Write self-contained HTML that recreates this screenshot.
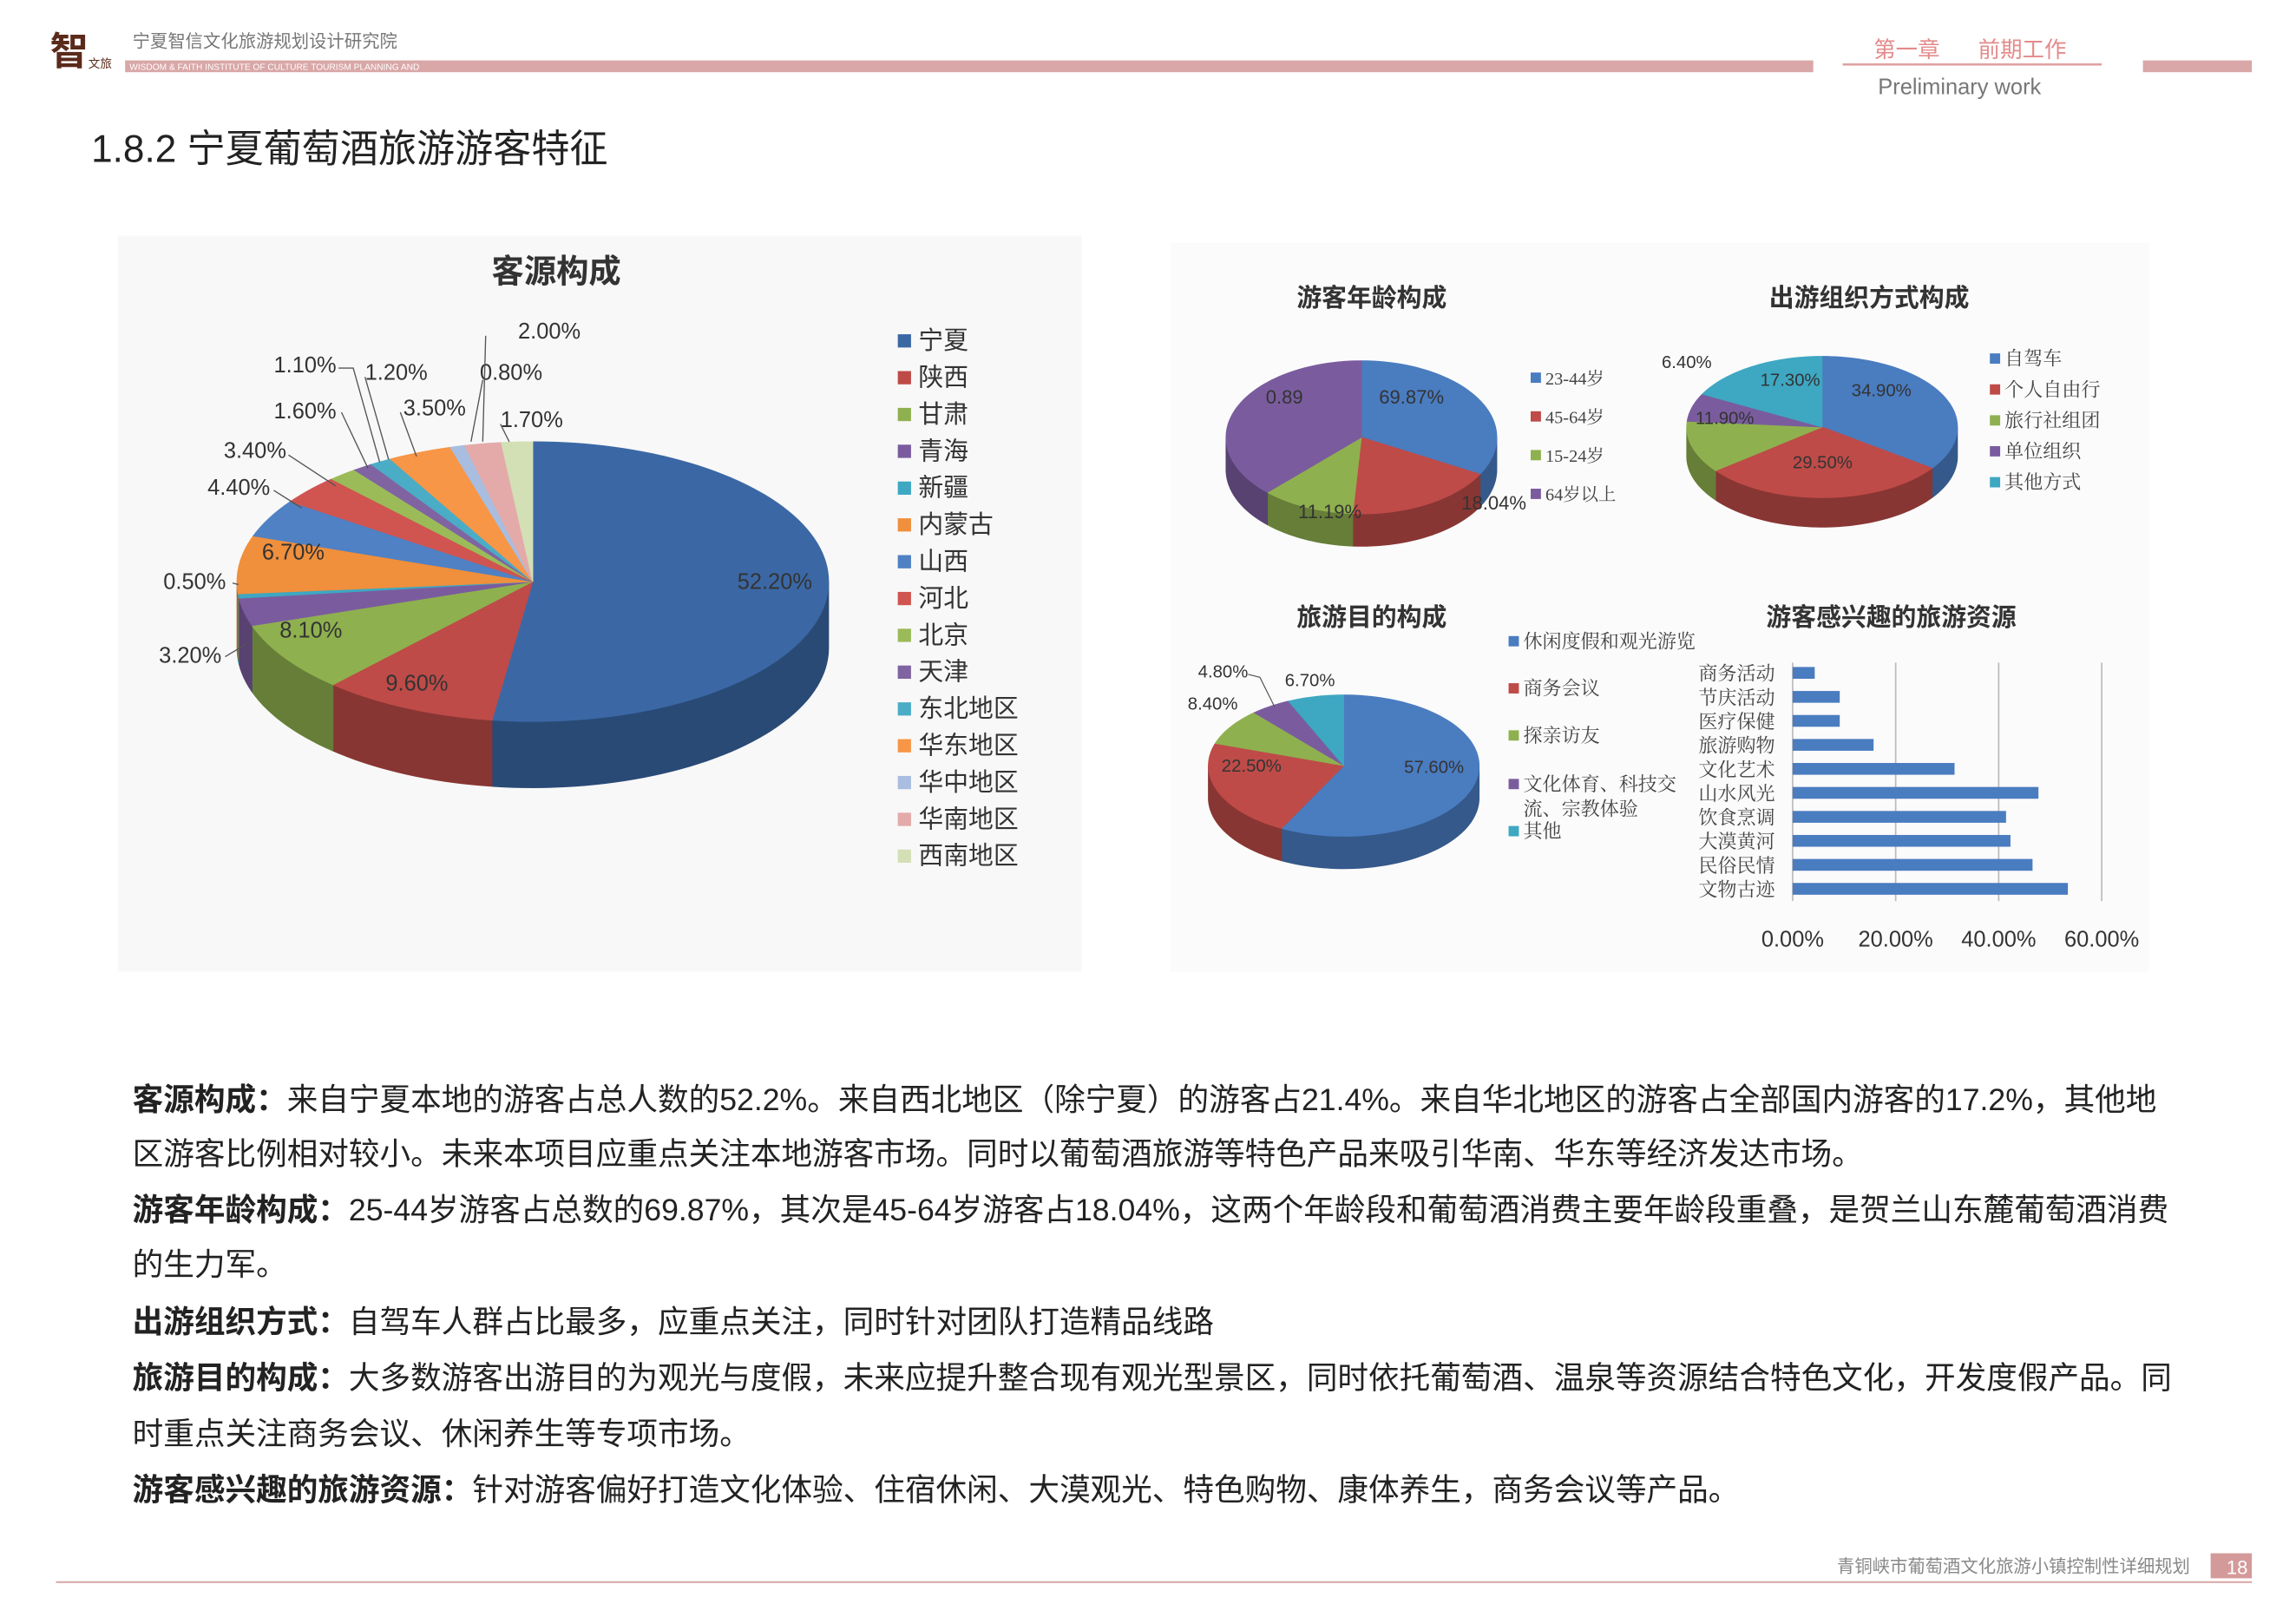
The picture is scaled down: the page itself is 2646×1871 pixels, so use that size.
<!DOCTYPE html>
<html><head><meta charset="utf-8">
<style>
html,body{margin:0;padding:0;background:#fff;}
svg{display:block;}
text{font-family:"Liberation Sans","Noto Sans CJK SC",sans-serif;}
.serif{font-family:"Liberation Serif","Noto Serif CJK SC",serif;}
</style></head><body>
<svg id="s" width="2646" height="1871" viewBox="0 0 1560 1103" xmlns="http://www.w3.org/2000/svg">
<rect width="1560" height="1103" fill="#fff"/>
<rect x="34" y="18" width="44" height="30" fill="#fff"/>
<text x="34" y="44" font-size="26" font-weight="bold" fill="#5a2a1a">智</text>
<text x="60" y="46" font-size="8" fill="#5a2a1a">文旅</text>
<text x="90" y="32" font-size="12" fill="#777">宁夏智信文化旅游规划设计研究院</text>
<rect x="85" y="41" width="1147" height="8" fill="#d9a7a7"/>
<text x="88" y="47.5" font-size="6" fill="#fff">WISDOM &amp; FAITH INSTITUTE OF CULTURE TOURISM PLANNING AND</text>
<text x="1273" y="39" font-size="15" fill="#e38b8b">第一章</text>
<text x="1344" y="39" font-size="15" fill="#e38b8b">前期工作</text>
<rect x="1252" y="43" width="176" height="1.5" fill="#e0a0a0"/>
<text x="1276" y="64" font-size="15" fill="#777">Preliminary work</text>
<rect x="1456" y="41" width="74" height="8" fill="#d9a7a7"/>
<text x="62" y="110" font-size="26" fill="#222">1.8.2 宁夏葡萄酒旅游游客特征</text>
<rect x="80" y="160" width="655" height="500" fill="#f8f8f8"/>
<rect x="795" y="165" width="665" height="495" fill="#fbfbfb"/>
<text x="378" y="192" font-size="22" font-weight="bold" text-anchor="middle" fill="#333">客源构成</text>
<g id="pies"></g>
<g id="lbl" font-size="14" fill="#333"></g>
<text x="932" y="208" font-size="17" font-weight="bold" text-anchor="middle" fill="#333">游客年龄构成</text>
<text x="1270" y="208" font-size="17" font-weight="bold" text-anchor="middle" fill="#333">出游组织方式构成</text>
<text x="932" y="425" font-size="17" font-weight="bold" text-anchor="middle" fill="#333">旅游目的构成</text>
<text x="1285" y="425" font-size="17" font-weight="bold" text-anchor="middle" fill="#333">游客感兴趣的旅游资源</text>
<g stroke="#bbb" stroke-width="1">
<line x1="1218" y1="450" x2="1218" y2="612"/><line x1="1288" y1="450" x2="1288" y2="612"/>
<line x1="1358" y1="450" x2="1358" y2="612"/><line x1="1428" y1="450" x2="1428" y2="612"/>
</g>
<g id="bars"></g>
<g font-size="15" fill="#333" text-anchor="middle">
<text x="1218" y="643">0.00%</text><text x="1288" y="643">20.00%</text><text x="1358" y="643">40.00%</text><text x="1428" y="643">60.00%</text>
</g>
<g font-size="21" fill="#222">
<text x="90" y="754"><tspan font-weight="bold">客源构成：</tspan>来自宁夏本地的游客占总人数的52.2%。来自西北地区（除宁夏）的游客占21.4%。来自华北地区的游客占全部国内游客的17.2%，其他地</text>
<text x="90" y="791">区游客比例相对较小。未来本项目应重点关注本地游客市场。同时以葡萄酒旅游等特色产品来吸引华南、华东等经济发达市场。</text>
<text x="90" y="829"><tspan font-weight="bold">游客年龄构成：</tspan>25-44岁游客占总数的69.87%，其次是45-64岁游客占18.04%，这两个年龄段和葡萄酒消费主要年龄段重叠，是贺兰山东麓葡萄酒消费</text>
<text x="90" y="866">的生力军。</text>
<text x="90" y="905"><tspan font-weight="bold">出游组织方式：</tspan>自驾车人群占比最多，应重点关注，同时针对团队打造精品线路</text>
<text x="90" y="943"><tspan font-weight="bold">旅游目的构成：</tspan>大多数游客出游目的为观光与度假，未来应提升整合现有观光型景区，同时依托葡萄酒、温泉等资源结合特色文化，开发度假产品。同</text>
<text x="90" y="981">时重点关注商务会议、休闲养生等专项市场。</text>
<text x="90" y="1019"><tspan font-weight="bold">游客感兴趣的旅游资源：</tspan>针对游客偏好打造文化体验、住宿休闲、大漠观光、特色购物、康体养生，商务会议等产品。</text>
</g>
<rect x="38" y="1074" width="1492" height="1.2" fill="#d9a7a7"/>
<text x="1488" y="1068" font-size="12" fill="#888" text-anchor="end">青铜峡市葡萄酒文化旅游小镇控制性详细规划</text>
<rect x="1502" y="1055" width="28" height="17" fill="#d49a9a"/>
<text x="1520" y="1069" font-size="13" fill="#fff" text-anchor="middle">18</text>
</svg>
<script>
var NS="http://www.w3.org/2000/svg";
var P=document.getElementById("pies"),L=document.getElementById("lbl");
function el(t,a,par){var e=document.createElementNS(NS,t);for(var k in a)e.setAttribute(k,a[k]);(par||P).appendChild(e);return e;}
function shade(c,f){var n=parseInt(c.slice(1),16),r=(n>>16)*f,g=((n>>8)&255)*f,b=(n&255)*f;return "rgb("+(r|0)+","+(g|0)+","+(b|0)+")";}
function pie(cx,cy,rx,ry,d,vals,cols){
  var tot=vals.reduce(function(a,b){return a+b},0),a=0,sl=[];
  vals.forEach(function(v,i){var a2=a+v/tot*360;sl.push([a,a2,cols[i]]);a=a2;});
  function pt(t,dy){t=t*Math.PI/180;return [cx+rx*Math.sin(t),cy-ry*Math.cos(t)+(dy||0)];}
  function arc(t1,t2,dy,rev){var s="",n=Math.max(2,Math.ceil(Math.abs(t2-t1)/2));for(var i=0;i<=n;i++){var t=rev?t2-(t2-t1)*i/n:t1+(t2-t1)*i/n;var p=pt(t,dy);s+=(i?"L":"")+p[0].toFixed(2)+","+p[1].toFixed(2);}return s;}
  sl.forEach(function(s){var t1=Math.max(s[0],90),t2=Math.min(s[1],270);if(t2>t1){el("path",{d:"M"+arc(t1,t2,0)+"L"+arc(t1,t2,d,true)+"Z",fill:shade(s[2],0.72),stroke:shade(s[2],0.72),"stroke-width":0.5});}});
  sl.forEach(function(s){el("path",{d:"M"+cx+","+cy+"L"+arc(s[0],s[1],0)+"Z",fill:s[2],stroke:s[2],"stroke-width":0.5});});
}
var B="#3b68a5",R="#be4b48",G="#8fb04f",Pu="#7a5c9e",T="#3ea7c2",O="#f08f3c";
pie(362,395,201,95,45,[52.2,9.6,8.1,3.2,0.5,6.7,4.4,3.4,1.6,1.1,1.2,3.5,0.8,2.0,1.7],
 [B,R,G,Pu,T,O,"#4f81c4","#d05450","#9bbb59","#8064a2","#4bacc6","#f79646","#a8bde0","#e3aaa9","#d3dfb5"]);
pie(925,297,92,52,22,[33,18.04,11.19,37.8],["#4a7cc0",R,G,Pu]);
pie(1238,290,92,48,20,[34.9,29.5,11.9,6.4,17.3],["#4a7cc0",R,G,Pu,T]);
pie(913,520,92,48,22,[57.6,22.5,8.4,4.8,6.7],["#4a7cc0",R,G,Pu,T]);
function tx(x,y,s,sz,anc,col,p){var e=el("text",{x:x,y:y,"font-size":sz||14,"text-anchor":anc||"start",fill:col||"#333"},p||L);e.textContent=s;return e;}
[[352,230,"2.00%"],[326,258,"0.80%"],[340,290,"1.70%"],[186,253,"1.10%"],[248,258,"1.20%"],[186,284,"1.60%"],[274,282,"3.50%"],[152,311,"3.40%"],[141,336,"4.40%"],[178,380,"6.70%"],[111,400,"0.50%"],[190,433,"8.10%"],[108,450,"3.20%"],[262,469,"9.60%"],[501,400,"52.20%"]].forEach(function(a){tx(a[0],a[1],a[2],15);});
var lp=[[[330,228],[328,300]],[[328,258],[320,300]],[[340,288],[346,300]],[[230,250],[240,250],[258,314]],[[248,256],[264,312]],[[232,280],[250,318]],[[272,280],[283,310]],[[196,309],[228,330]],[[186,333],[205,345]],[[158,396],[162,397]],[[153,446],[168,437]]];
lp.forEach(function(p){el("polyline",{points:p.map(function(q){return q.join(",")}).join(" "),fill:"none",stroke:"#555","stroke-width":0.8},L);});
var names=["宁夏","陕西","甘肃","青海","新疆","内蒙古","山西","河北","北京","天津","东北地区","华东地区","华中地区","华南地区","西南地区"];
var lc=[B,R,G,Pu,T,O,"#4f81c4","#d05450","#9bbb59","#8064a2","#4bacc6","#f79646","#a8bde0","#e3aaa9","#d3dfb5"];
names.forEach(function(n,i){var y=231+i*25;el("rect",{x:610,y:y-4,width:9,height:9,fill:lc[i]},L);tx(624,y+6,n,17);});
tx(937,274,"69.87%",13);tx(860,274,"0.89",13);tx(882,352,"11.19%",13);tx(993,346,"18.04%",13);
[["23-44岁","#4a7cc0"],["45-64岁",R],["15-24岁",G],["64岁以上",Pu]].forEach(function(a,i){var y=257+i*26.3;el("rect",{x:1040,y:y-4,width:7,height:7,fill:a[1]},L);tx(1050,y+4,a[0],12,"start","#444").setAttribute("class","serif");});
tx(1129,250,"6.40%",12);tx(1196,262,"17.30%",12);tx(1258,269,"34.90%",12);tx(1152,288,"11.90%",12);tx(1218,318,"29.50%",12);
[["自驾车","#4a7cc0"],["个人自由行",R],["旅行社组团",G],["单位组织",Pu],["其他方式",T]].forEach(function(a,i){var y=244+i*21;el("rect",{x:1352,y:y-4,width:7,height:7,fill:a[1]},L);tx(1362,y+4,a[0],13,"start","#444").setAttribute("class","serif");});
tx(814,460,"4.80%",12);tx(873,466,"6.70%",12);tx(807,482,"8.40%",12);tx(830,524,"22.50%",12);tx(954,525,"57.60%",12);
el("polyline",{points:"848,458 856,460 866,480",fill:"none",stroke:"#555","stroke-width":0.7},L);
[["休闲度假和观光游览",436,"#4a7cc0"],["商务会议",468,R],["探亲访友",500,G],["文化体育、科技交",533,Pu],["其他",565,T]].forEach(function(a){el("rect",{x:1025,y:a[1]-4,width:7,height:7,fill:a[2]},L);tx(1035,a[1]+4,a[0],13,"start","#444").setAttribute("class","serif");});
tx(1035,554,"流、宗教体验",13,"start","#444").setAttribute("class","serif");
var bn=["商务活动","节庆活动","医疗保健","旅游购物","文化艺术","山水风光","饮食烹调","大漠黄河","民俗民情","文物古迹"],be=[1233,1250,1250,1273,1328,1385,1363,1366,1381,1405];
var BG=document.getElementById("bars");
bn.forEach(function(n,i){var y=457+i*16.3;el("rect",{x:1218,y:y-4,width:be[i]-1218,height:8,fill:"#4a7cc0"},BG);tx(1206,y+5,n,13,"end","#444",BG).setAttribute("class","serif");});
</script>
</body></html>
